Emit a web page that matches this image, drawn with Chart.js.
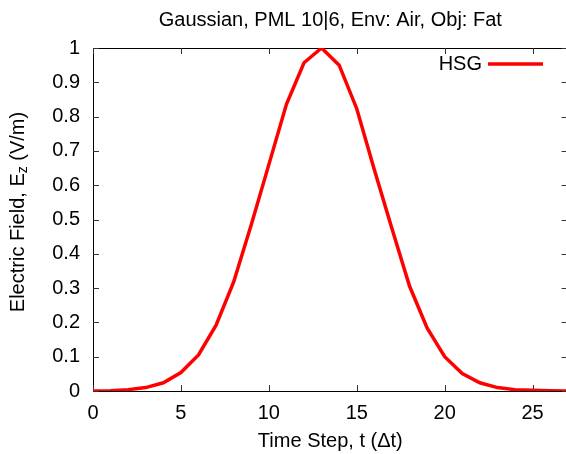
<!DOCTYPE html>
<html><head><meta charset="utf-8">
<script src="https://cdn.jsdelivr.net/npm/chart.js@4/dist/chart.umd.min.js"></script>
<style>html,body{margin:0;padding:0;background:#fff}</style>
</head><body>
<canvas id="c" width="566" height="454"></canvas>
<script>
const timeSteps = [0,1,2,3,4,5,6,7,8,9,10,11,12,13,14,15,16,17,18,19,20,21,22,23,24,25,26,27];
const hsgValues = [0.000,0.001,0.004,0.010,0.024,0.054,0.105,0.192,0.318,0.485,0.660,0.836,0.957,1.000,0.950,0.823,0.645,0.474,0.306,0.184,0.100,0.051,0.024,0.010,0.004,0.002,0.001,0.000];
const xTickValues = [0,5,10,15,20,25];
const yTickValues = [0,0.1,0.2,0.3,0.4,0.5,0.6,0.7,0.8,0.9,1];
const seriesLabel = 'HSG';
const titleText = 'Gaussian, PML 10|6, Env: Air, Obj: Fat';
const xTitleText = 'Time Step, t (\u0394t)';
const yTitleMain = 'Electric Field, E';
const yTitleSub = 'z';
const yTitleTail = ' (V/m)';

const FONT = '"Liberation Sans", Arial, sans-serif';
const FS = 20;

const framePlugin = {
  id: 'frame',
  beforeDatasetsDraw(chart) {
    const {ctx, chartArea: a, scales: {x, y}} = chart;
    ctx.save();
    ctx.strokeStyle = '#000';
    ctx.lineWidth = 1;
    ctx.strokeRect(Math.round(a.left) + 0.5, Math.round(a.top) + 0.5, Math.round(a.right - a.left) + 2, Math.round(a.bottom - a.top));
    const tl = 6;
    ctx.strokeStyle = '#333';
    ctx.beginPath();
    xTickValues.forEach(v => {
      const px = Math.round(x.getPixelForValue(v)) + 0.5;
      ctx.moveTo(px, a.bottom); ctx.lineTo(px, a.bottom - tl);
      ctx.moveTo(px, a.top); ctx.lineTo(px, a.top + tl);
    });
    yTickValues.forEach(v => {
      const py = Math.round(y.getPixelForValue(v)) + 0.5;
      ctx.moveTo(a.left, py); ctx.lineTo(a.left + tl, py);
      ctx.moveTo(a.right + 1.6, py); ctx.lineTo(a.right + 1.6 - tl, py);
    });
    ctx.stroke();
    ctx.restore();
  },
  afterDraw(chart) {
    const {ctx, chartArea: a} = chart;
    const cx = (a.left + a.right + 1.6) / 2;
    ctx.save();
    ctx.fillStyle = '#000';
    ctx.font = FS + 'px ' + FONT;
    ctx.textBaseline = 'middle';
    ctx.textAlign = 'center';
    ctx.fillText(titleText, cx, 20.5);
    ctx.fillText(xTitleText, cx, 441);
    // y title with subscript
    ctx.save();
    ctx.translate(18.5, 212);
    ctx.rotate(-Math.PI / 2);
    ctx.font = FS + 'px ' + FONT;
    const w1 = ctx.measureText(yTitleMain).width;
    const w3 = ctx.measureText(yTitleTail).width;
    ctx.font = '14px ' + FONT;
    const w2 = ctx.measureText(yTitleSub).width;
    const total = w1 + w2 + w3;
    let sx = -total / 2;
    ctx.textAlign = 'left';
    ctx.font = FS + 'px ' + FONT;
    ctx.fillText(yTitleMain, sx, 0);
    sx += w1;
    ctx.font = '14px ' + FONT;
    ctx.fillText(yTitleSub, sx, 5);
    sx += w2;
    ctx.font = FS + 'px ' + FONT;
    ctx.fillText(yTitleTail, sx, 0);
    ctx.restore();
    // legend
    const ds = chart.data.datasets[0];
    ctx.font = FS + 'px ' + FONT;
    ctx.textAlign = 'right';
    ctx.fillText(ds.label, 482, 64.5);
    ctx.strokeStyle = ds.borderColor;
    ctx.lineWidth = 3.5;
    ctx.beginPath();
    ctx.moveTo(488, 64); ctx.lineTo(543, 64);
    ctx.stroke();
    ctx.restore();
  }
};

new Chart(document.getElementById('c'), {
  type: 'line',
  data: {
    datasets: [{
      label: seriesLabel,
      data: timeSteps.map((t, i) => ({x: t, y: hsgValues[i]})),
      borderColor: '#ff0000',
      borderWidth: 3.5,
      pointRadius: 0,
      tension: 0,
      fill: false
    }]
  },
  options: {
    responsive: false,
    animation: false,
    devicePixelRatio: 1,
    layout: {padding: {top: 48, right: 0, bottom: 0, left: 0}},
    plugins: {legend: {display: false}, title: {display: false}, tooltip: {enabled: false}},
    scales: {
      x: {
        type: 'linear', min: 0, max: 26.9,
        afterBuildTicks: s => { s.ticks = xTickValues.map(v => ({value: v})); },
        afterFit: s => { s.height = 63; },
        grid: {display: false, drawTicks: false},
        border: {display: false},
        ticks: {color: '#000', font: {family: FONT, size: FS}, padding: 10, maxRotation: 0, autoSkip: false,
          callback: v => String(v)}
      },
      y: {
        type: 'linear', min: 0, max: 1,
        afterBuildTicks: s => { s.ticks = yTickValues.map(v => ({value: v})); },
        afterFit: s => { s.width = 93; },
        grid: {display: false, drawTicks: false},
        border: {display: false},
        ticks: {color: '#000', font: {family: FONT, size: FS}, padding: 13, autoSkip: false,
          callback: v => String(Math.round(v * 10) / 10)}
      }
    }
  },
  plugins: [framePlugin]
});
</script>
</body></html>
